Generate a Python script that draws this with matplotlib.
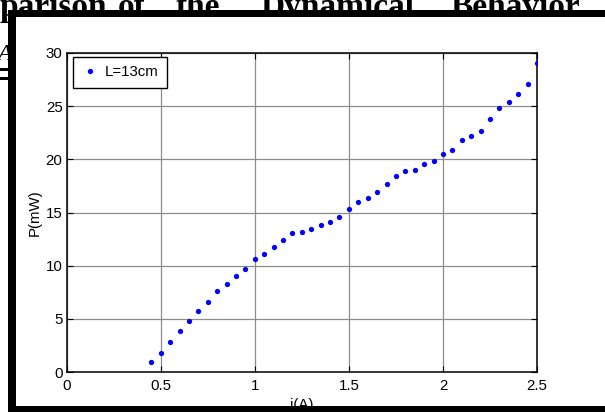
import matplotlib
matplotlib.use("Agg")
import matplotlib.pyplot as plt
from matplotlib.patches import Rectangle

# Measured current (A) and output power (mW) for L = 13 cm
current_a = [0.45, 0.50, 0.55, 0.60, 0.65, 0.70, 0.75, 0.80, 0.85, 0.90,
             0.95, 1.00, 1.05, 1.10, 1.15, 1.20, 1.25, 1.30, 1.35, 1.40,
             1.45, 1.50, 1.55, 1.60, 1.65, 1.70, 1.75, 1.80, 1.85, 1.90,
             1.95, 2.00, 2.05, 2.10, 2.15, 2.20, 2.25, 2.30, 2.35, 2.40,
             2.45, 2.50]
power_mw = [0.9, 1.8, 2.85, 3.9, 4.75, 5.75, 6.6, 7.6, 8.3, 9.0,
            9.7, 10.6, 11.1, 11.8, 12.4, 13.05, 13.2, 13.45, 13.85, 14.15,
            14.55, 15.3, 15.95, 16.4, 16.95, 17.65, 18.45, 18.9, 19.0, 19.6,
            19.85, 20.5, 20.85, 21.85, 22.2, 22.7, 23.8, 24.85, 25.35, 26.1,
            27.1, 29.05]
series_label = "L=13cm"

x_ticks = [0, 0.5, 1, 1.5, 2, 2.5]
x_tick_labels = ["0", "0.5", "1", "1.5", "2", "2.5"]
y_ticks = [0, 5, 10, 15, 20, 25, 30]
y_tick_labels = ["0", "5", "10", "15", "20", "25", "30"]

heading_words = ["parison", "of", "the", "Dynamical", "Behavior"]

W, H = 605, 412
fig = plt.figure(figsize=(W / 100, H / 100), dpi=100)
fig.patch.set_facecolor("white")

def fx(px):
    return px / W

def fy(py):
    return 1 - py / H

# page text running behind the figure frame
heading_x = [-1, 118, 176, 260, 450]
for word, px in zip(heading_words, heading_x):
    fig.text(fx(px), fy(16), word, family="Liberation Serif", weight="bold",
             fontsize=24, ha="left", va="baseline", zorder=-3)
fig.text(fx(-3), fy(60), "A", family="Liberation Serif", style="italic",
         fontsize=17, ha="left", va="baseline", zorder=-3)
for py in (68, 77):
    fig.add_artist(Rectangle((0, fy(py + 3)), fx(9), 3 / H,
                             transform=fig.transFigure, facecolor="black",
                             edgecolor="none", zorder=-3))

# white picture area and its black frame
fig.add_artist(Rectangle((fx(16), fy(406)), fx(W - 16), (406 - 16) / H,
                         transform=fig.transFigure, facecolor="white",
                         edgecolor="none", zorder=-2))
for (x0, y0, x1, y1) in [(8, 10, W, 16.5), (8, 10, 16, H), (8, 406, W, H)]:
    fig.add_artist(Rectangle((fx(x0), fy(y1)), fx(x1 - x0), (y1 - y0) / H,
                             transform=fig.transFigure, facecolor="black",
                             edgecolor="none", zorder=10))

ax = fig.add_axes([fx(66.7), fy(372), fx(537 - 66.7), (372 - 53) / H])
ax.set_facecolor("white")

ax.plot(current_a, power_mw, linestyle="none", marker="o", markersize=3.8,
        color="blue", markeredgewidth=0, label=series_label, zorder=3)

ax.set_xlim(0, 2.5)
ax.set_ylim(0, 30)
ax.set_xticks(x_ticks)
ax.set_xticklabels(x_tick_labels)
ax.set_yticks(y_ticks)
ax.set_yticklabels(y_tick_labels)

font = dict(family="Liberation Sans", size=10.8)
for lbl in ax.get_xticklabels() + ax.get_yticklabels():
    lbl.set_fontfamily(font["family"])
    lbl.set_fontsize(font["size"])

ax.tick_params(direction="in", length=4, width=0.8, top=True, right=True,
               colors="black")
ax.tick_params(axis="x", pad=5)
ax.tick_params(axis="y", pad=3)

ax.grid(True, color="0.55", linewidth=0.9, linestyle="-")
ax.set_axisbelow(True)
for s in ax.spines.values():
    s.set_linewidth(1.1)
    s.set_color("black")

ax.set_xlabel("i(A)", fontfamily=font["family"], fontsize=font["size"])
ax.set_ylabel("P(mW)", fontfamily=font["family"], fontsize=font["size"])
ax.xaxis.set_label_coords(0.5, -0.082)
ax.yaxis.set_label_coords(-0.052, 0.5)

leg = ax.legend(loc="upper left", bbox_to_anchor=(0.0134, 0.987),
                borderaxespad=0, fancybox=False, framealpha=1,
                edgecolor="black", handlelength=1.2, handletextpad=0.35,
                borderpad=0.55, prop=dict(family="Liberation Sans", size=10.8),
                markerscale=1.0)
leg.get_frame().set_linewidth(1.0)

fig.savefig("out.png", dpi=100)
